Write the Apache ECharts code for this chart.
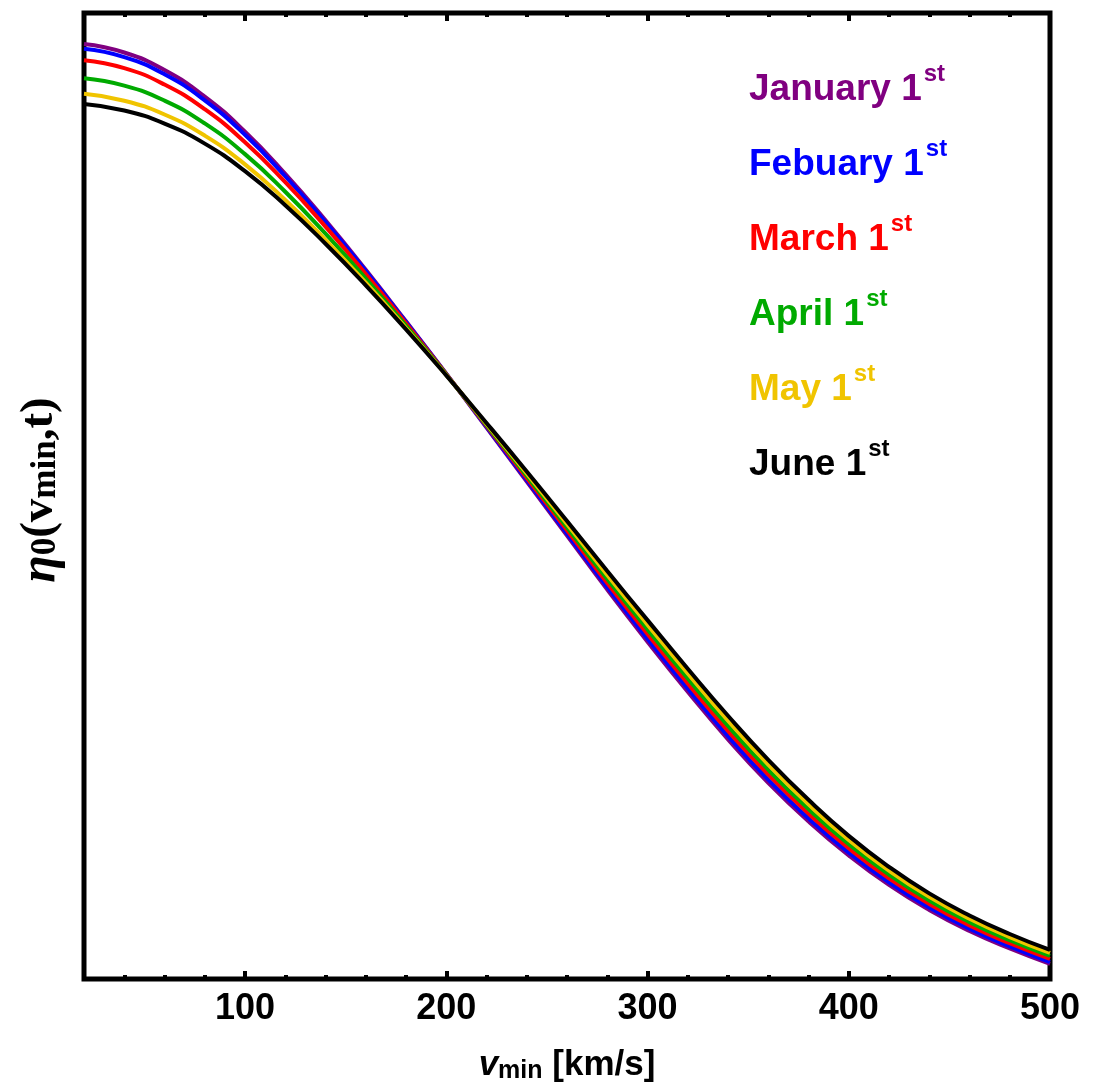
<!DOCTYPE html>
<html>
<head>
<meta charset="utf-8">
<script src="https://cdn.jsdelivr.net/npm/echarts@6/dist/echarts.min.js"></script>
<style>
  html, body { margin: 0; padding: 0; background: #fff; }
  #chart { width: 1108px; height: 1087px; }
</style>
</head>
<body>
<div id="chart"></div>
<script>
// v_min grid [km/s]
const vMin = [20, 40, 60, 80, 100, 120, 140, 160, 180, 200, 220, 240, 260, 280, 300, 320, 340, 360, 380, 400, 420, 440, 460, 480, 500];

// eta_0 (arbitrary units)
const january  = [96.79, 95.91, 94.09, 91.35, 87.72, 83.36, 78.55, 73.42, 68.08, 62.65, 57.09, 51.50, 45.91, 40.31, 34.92, 29.74, 24.81, 20.31, 16.32, 12.80, 9.74, 7.15, 4.97, 3.16, 1.56];
const february = [96.29, 95.43, 93.65, 90.96, 87.39, 83.10, 78.35, 73.29, 68.01, 62.64, 57.16, 51.65, 46.12, 40.58, 35.23, 30.07, 25.15, 20.64, 16.63, 13.08, 10.00, 7.39, 5.20, 3.37, 1.76];
const march    = [95.11, 94.29, 92.59, 90.04, 86.62, 82.48, 77.89, 72.99, 67.86, 62.61, 57.26, 51.87, 46.45, 41.00, 35.72, 30.60, 25.69, 21.17, 17.12, 13.53, 10.41, 7.77, 5.55, 3.70, 2.08];
const april    = [93.24, 92.48, 90.93, 88.57, 85.39, 81.50, 77.16, 72.50, 67.61, 62.56, 57.36, 52.09, 46.76, 41.40, 36.19, 31.10, 26.20, 21.67, 17.59, 13.95, 10.81, 8.12, 5.89, 4.01, 2.39];
const may      = [91.63, 90.92, 89.49, 87.31, 84.33, 80.65, 76.52, 72.08, 67.39, 62.52, 57.46, 52.32, 47.09, 41.83, 36.68, 31.62, 26.74, 22.19, 18.08, 14.40, 11.22, 8.50, 6.24, 4.34, 2.71];
const june     = [90.57, 89.90, 88.55, 86.48, 83.63, 80.10, 76.11, 71.81, 67.25, 62.49, 57.56, 52.54, 47.41, 42.23, 37.15, 32.12, 27.25, 22.69, 18.55, 14.82, 11.61, 8.86, 6.58, 4.66, 3.01];

const seriesNames = ['January 1st', 'Febuary 1st', 'March 1st', 'April 1st', 'May 1st', 'June 1st'];
const seriesValues = [january, february, march, april, may, june];
const seriesColors = ['#800080', '#0000ff', '#ff0000', '#00aa00', '#f0c400', '#000000'];

const majorTicks = [100, 200, 300, 400];
const tickLabels = [100, 200, 300, 400, 500];
const minorTicks = [40, 60, 80, 120, 140, 160, 180, 220, 240, 260, 280, 320, 340, 360, 380, 420, 440, 460, 480];

const SANS = 'Liberation Sans, Arial, sans-serif';
const SERIF = 'Liberation Serif, Times New Roman, serif';

const chart = echarts.init(document.getElementById('chart'), null, { renderer: 'canvas' });

function xAxisDef(position, ticks, len, withLabels) {
  return {
    type: 'value', position: position, min: 20, max: 500, gridIndex: 0,
    axisLine: { show: false },
    splitLine: { show: false },
    axisTick: { show: true, inside: true, length: len, customValues: ticks,
      lineStyle: { color: '#000', width: 4 } },
    axisLabel: withLabels ? { show: true, customValues: tickLabels, margin: 12,
      fontSize: 36, fontWeight: 'bold', fontFamily: SANS, color: '#000' } : { show: false }
  };
}

const legendData = seriesNames.map((n, i) => ({
  name: n,
  textStyle: {
    color: seriesColors[i],
    rich: {
      a: { fontSize: 37, fontWeight: 'bold', fontFamily: SANS, color: seriesColors[i], lineHeight: 46, verticalAlign: 'bottom' },
      b: { fontSize: 24, fontWeight: 'bold', fontFamily: SANS, color: seriesColors[i], lineHeight: 24, verticalAlign: 'top', padding: [0, 0, 0, 2] }
    }
  }
}));

const option = {
  animation: false,
  backgroundColor: '#fff',
  grid: { left: 84, right: 58, top: 13, bottom: 108, show: true, borderColor: '#000', borderWidth: 5, backgroundColor: 'transparent' },
  xAxis: [
    xAxisDef('bottom', majorTicks, 8, true),
    xAxisDef('bottom', minorTicks, 4, false),
    xAxisDef('top', majorTicks, 8, false),
    xAxisDef('top', minorTicks, 4, false)
  ],
  yAxis: {
    type: 'value', min: 0, max: 100,
    axisLine: { show: false }, axisTick: { show: false }, axisLabel: { show: false }, splitLine: { show: false }
  },
  legend: {
    orient: 'vertical', left: 744, top: 62, padding: 0,
    itemGap: 29, itemWidth: 0, itemHeight: 0, icon: 'none', selectedMode: false,
    data: legendData,
    formatter: function (name) { return '{a|' + name.replace(/st$/, '') + '}{b|st}'; }
  },
  graphic: [
    {
      type: 'text', x: 567, y: 1066,
      style: {
        text: '{v|v}{s|min}{t| [km/s]}',
        align: 'center', verticalAlign: 'middle',
        rich: {
          v: { fontSize: 35, fontWeight: 'bold', fontStyle: 'italic', fontFamily: SANS, fill: '#000', lineHeight: 36, verticalAlign: 'top' },
          s: { fontSize: 25, fontWeight: 'bold', fontFamily: SANS, fill: '#000', lineHeight: 25, padding: [17, 0, 0, 0], verticalAlign: 'bottom' },
          t: { fontSize: 35, fontWeight: 'bold', fontFamily: SANS, fill: '#000', lineHeight: 36, verticalAlign: 'top' }
        }
      }
    },
    {
      type: 'text', x: 40, y: 490, rotation: Math.PI / 2,
      style: {
        text: '{e|η}{s|0}{p|(v}{s|min}{p|,t)}',
        align: 'center', verticalAlign: 'middle',
        rich: {
          e: { fontSize: 50, fontWeight: 'bold', fontStyle: 'italic', fontFamily: SERIF, fill: '#000', lineHeight: 47, verticalAlign: 'top' },
          p: { fontSize: 47, fontWeight: 'bold', fontFamily: SERIF, fill: '#000', lineHeight: 47, verticalAlign: 'top' },
          s: { fontSize: 35, fontWeight: 'bold', fontFamily: SERIF, fill: '#000', lineHeight: 35, padding: [18, 0, 0, 0], verticalAlign: 'bottom' }
        }
      }
    }
  ],
  series: seriesNames.map((n, i) => ({
    name: n,
    type: 'line',
    xAxisIndex: 0,
    yAxisIndex: 0,
    data: vMin.map((v, k) => [v, seriesValues[i][k]]),
    showSymbol: false,
    smooth: 0.5,
    lineStyle: { color: seriesColors[i], width: 4 },
    itemStyle: { color: seriesColors[i] },
    emphasis: { disabled: true }
  }))
};

chart.setOption(option);
</script>
</body>
</html>
